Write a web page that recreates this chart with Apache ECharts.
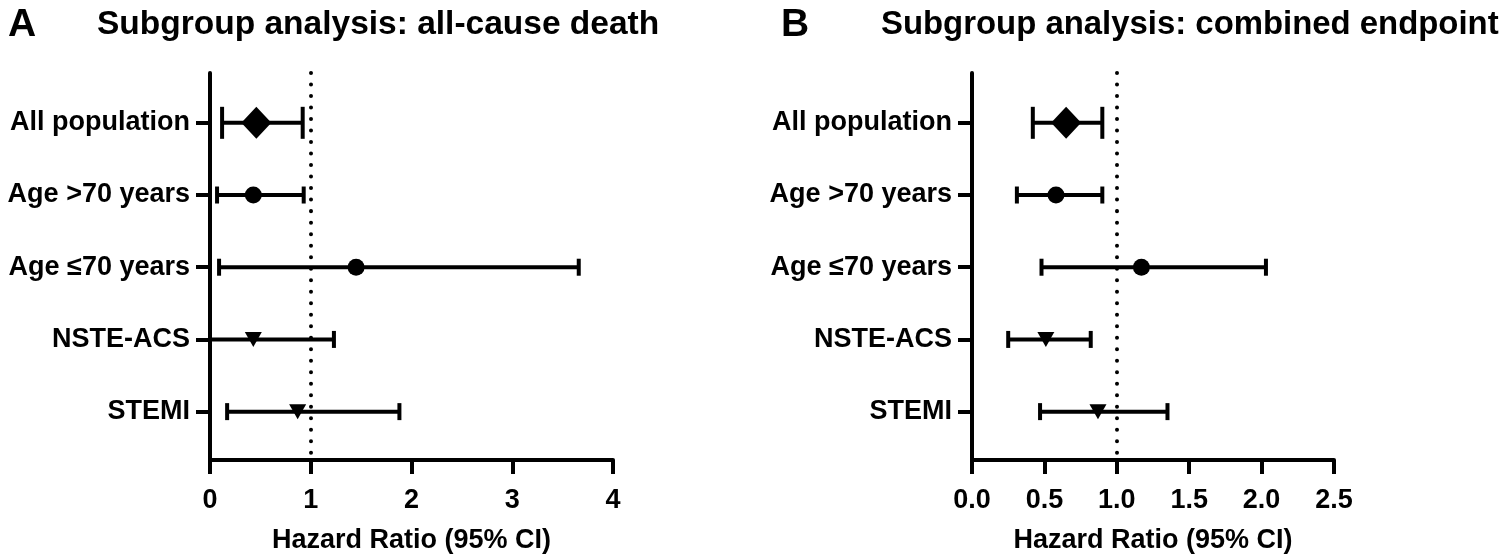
<!DOCTYPE html>
<html>
<head>
<meta charset="utf-8">
<script src="https://cdn.jsdelivr.net/npm/echarts@6/dist/echarts.min.js"></script>
<style>
html,body{margin:0;padding:0;background:#fff;}
#main{width:1500px;height:557px;}
</style>
</head>
<body>
<div id="main"></div>
<script>
// ---- data ----
const categories = ['All population', 'Age >70 years', 'Age \u226470 years', 'NSTE-ACS', 'STEMI'];
const markerTypes = ['diamond', 'circle', 'circle', 'triangle', 'triangle'];

// Panel A: all-cause death
const hrA   = [0.46, 0.43, 1.45, 0.43, 0.87];
const lowA  = [0.12, 0.07, 0.09, 0.00, 0.17];
const highA = [0.92, 0.93, 3.66, 1.23, 1.88];

// Panel B: combined endpoint
const hrB   = [0.65, 0.58, 1.17, 0.51, 0.87];
const lowB  = [0.42, 0.31, 0.48, 0.25, 0.47];
const highB = [0.90, 0.90, 2.03, 0.82, 1.35];

const xTicksA = [0, 1, 2, 3, 4];
const xTicksB = ['0.0', '0.5', '1.0', '1.5', '2.0', '2.5'];
const refLine = 1;

const titleA = 'Subgroup analysis: all-cause death';
const titleB = 'Subgroup analysis: combined endpoint';
const axisName = 'Hazard Ratio (95% CI)';

// ---- styles ----
const FONT = '"Liberation Sans", Arial, Helvetica, sans-serif';
const BLACK = '#000';
const LW = 4;
const rowIdx = categories.map((c, i) => i);

function symbolFor(t) {
  if (t === 'diamond') return { symbol: 'diamond', symbolSize: [30, 32], symbolRotate: 0 };
  if (t === 'circle') return { symbol: 'circle', symbolSize: 17, symbolRotate: 0 };
  return { symbol: 'triangle', symbolSize: [17, 15], symbolRotate: 180 };
}
function capFor(t) { return t === 'diamond' ? 16 : 8.5; }

function xAxisCfg(gi, max, interval, fmt) {
  return {
    type: 'value', gridIndex: gi, min: 0, max: max, interval: interval,
    position: 'bottom',
    axisLine: { show: true, onZero: false, lineStyle: { color: BLACK, width: LW } },
    axisTick: { show: true, length: 14, inside: false, lineStyle: { color: BLACK, width: LW } },
    axisLabel: { show: true, margin: 27, color: BLACK, fontSize: 27, fontWeight: 'bold', fontFamily: FONT, formatter: fmt },
    splitLine: { show: false },
    name: axisName, nameLocation: 'middle', nameGap: 67,
    nameTextStyle: { color: BLACK, fontSize: 27, fontWeight: 'bold', fontFamily: FONT }
  };
}
function yAxisCfg(gi) {
  return {
    type: 'value', gridIndex: gi, min: -0.69, max: 4.67, inverse: true,
    axisLine: { show: true, onZero: false, lineStyle: { color: BLACK, width: LW } },
    axisTick: { show: true, length: 14, lineStyle: { color: BLACK, width: LW }, customValues: rowIdx },
    axisLabel: {
      show: true, margin: 20, color: BLACK, fontSize: 27, fontWeight: 'bold', fontFamily: FONT,
      padding: [4, 0, 0, 0],
      customValues: rowIdx,
      formatter: v => categories[Math.round(v)]
    },
    splitLine: { show: false }
  };
}

function barSeries(gi, low, high) {
  return {
    type: 'custom', xAxisIndex: gi, yAxisIndex: gi, z: 3,
    data: categories.map((c, i) => [low[i], high[i], i]),
    renderItem: function (params, api) {
      const i = api.value(2);
      const a = api.coord([api.value(0), i]);
      const b = api.coord([api.value(1), i]);
      const h = capFor(markerTypes[i]);
      const st = { stroke: BLACK, lineWidth: LW };
      return {
        type: 'group',
        children: [
          { type: 'line', shape: { x1: a[0], y1: a[1], x2: b[0], y2: b[1] }, style: st },
          { type: 'line', shape: { x1: a[0], y1: a[1] - h, x2: a[0], y2: a[1] + h }, style: st },
          { type: 'line', shape: { x1: b[0], y1: b[1] - h, x2: b[0], y2: b[1] + h }, style: st }
        ]
      };
    },
    markLine: {
      silent: true, symbol: ['none', 'none'], label: { show: false },
      lineStyle: { color: BLACK, width: 4, type: [0.01, 11.5], cap: 'round' },
      emphasis: { disabled: true },
      data: [{ xAxis: refLine }]
    }
  };
}
function pointSeries(gi, hr) {
  return {
    type: 'scatter', xAxisIndex: gi, yAxisIndex: gi, z: 5,
    itemStyle: { color: BLACK, opacity: 1 },
    data: categories.map((c, i) => Object.assign({ value: [hr[i], i] }, symbolFor(markerTypes[i])))
  };
}

const chart = echarts.init(document.getElementById('main'), null, { renderer: 'canvas' });
chart.setOption({
  backgroundColor: '#fff',
  animation: false,
  title: [
    { text: 'A', left: 3, top: 1, textStyle: { color: BLACK, fontSize: 39, fontWeight: 'bold', fontFamily: FONT } },
    { text: titleA, left: 92, top: 3, textStyle: { color: BLACK, fontSize: 33.5, fontWeight: 'bold', fontFamily: FONT } },
    { text: 'B', left: 776, top: 1, textStyle: { color: BLACK, fontSize: 39, fontWeight: 'bold', fontFamily: FONT } },
    { text: titleB, left: 876, top: 3, textStyle: { color: BLACK, fontSize: 32.9, fontWeight: 'bold', fontFamily: FONT } }
  ],
  grid: [
    { left: 210, top: 73, width: 403, height: 387, containLabel: false, outerBoundsMode: 'none' },
    { left: 972, top: 73, width: 362, height: 387, containLabel: false, outerBoundsMode: 'none' }
  ],
  xAxis: [
    xAxisCfg(0, 4, 1, v => String(v)),
    xAxisCfg(1, 2.5, 0.5, v => v.toFixed(1))
  ],
  yAxis: [yAxisCfg(0), yAxisCfg(1)],
  series: [
    barSeries(0, lowA, highA), pointSeries(0, hrA),
    barSeries(1, lowB, highB), pointSeries(1, hrB)
  ]
});
</script>
</body>
</html>
